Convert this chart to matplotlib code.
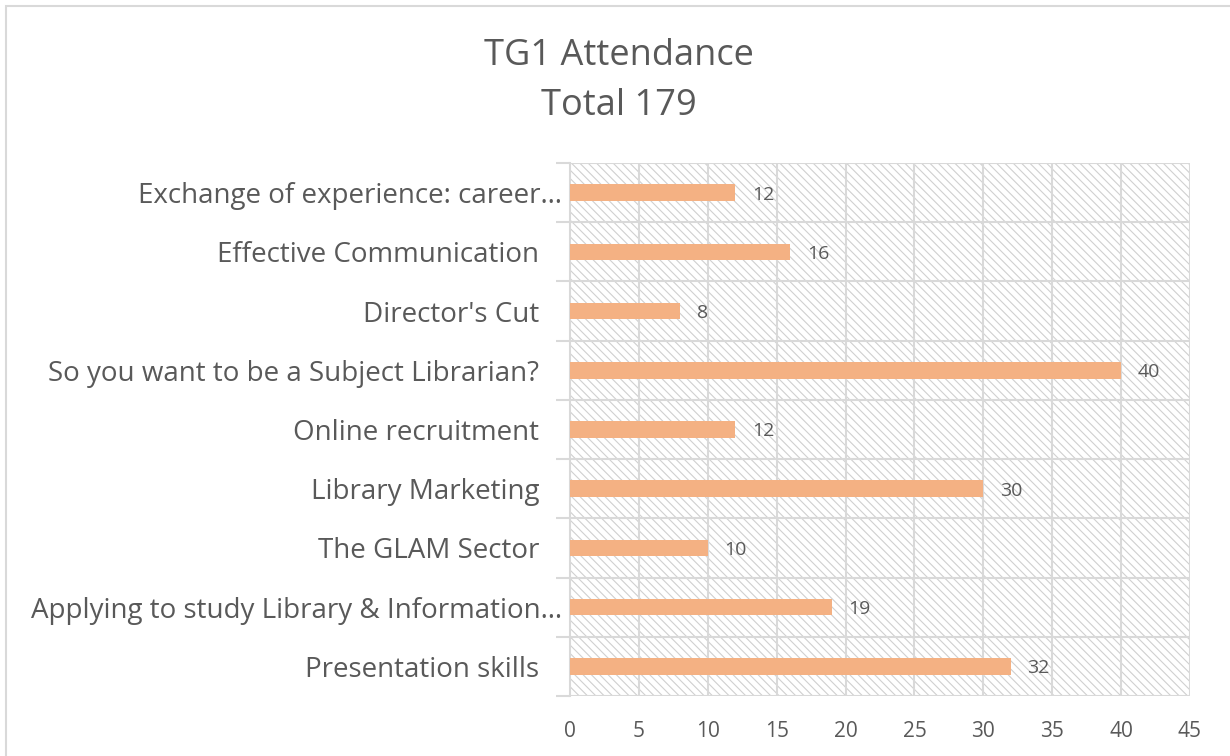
import matplotlib
matplotlib.use("Agg")
import matplotlib.pyplot as plt
from matplotlib.patches import Rectangle
from matplotlib.transforms import ScaledTranslation

categories = [
    "Presentation skills",
    "Applying to study Library & Information\u2026",
    "The GLAM Sector",
    "Library Marketing",
    "Online recruitment",
    "So you want to be a Subject Librarian?",
    "Director's Cut",
    "Effective Communication",
    "Exchange of experience: career\u2026",
]
values = [32, 19, 10, 30, 12, 40, 8, 16, 12]
xticks = [0, 5, 10, 15, 20, 25, 30, 35, 40, 45]
title = "TG1 Attendance\nTotal 179"

TXT = "#595959"
GRID = "#d9d9d9"
BAR = "#F4B183"

plt.rcParams['font.family'] = ['Open Sans', 'DejaVu Sans']
plt.rcParams['hatch.color'] = '#d0d0d0'
plt.rcParams['hatch.linewidth'] = 0.8

W, H = 1230, 756
fig = plt.figure(figsize=(W / 100, H / 100), dpi=100)
fig.patch.set_facecolor("white")

# chart border
fig.patches.append(Rectangle((6 / W, -0.05), 1.2, 1 - 5.5 / H + 0.05, transform=fig.transFigure,
                             fill=False, edgecolor=GRID, linewidth=1.5))

left, right, top, bottom = 570 / W, 1190 / W, 1 - 163 / H, 1 - 696 / H
ax = fig.add_axes([left, bottom, right - left, top - bottom])

n = len(categories)
ax.set_xlim(0, 45)
ax.set_ylim(-0.5, n - 0.5)

# hatched background
ax.add_patch(Rectangle((0, -0.5), 45, n, facecolor="white", edgecolor="#d0d0d0",
                       hatch="\\\\\\\\", linewidth=0, zorder=0))

ax.set_xticks(xticks)
for x in xticks[1:]:
    ax.axvline(x, color=GRID, lw=1.5, zorder=1)
for y in range(n + 1):
    ax.axhline(y - 0.5, color=GRID, lw=1.5, zorder=1, xmin=0, xmax=1)

ax.barh(range(n), values, height=0.28, color=BAR, zorder=3)
for i, v in enumerate(values):
    ax.annotate(str(v), (v, i), xytext=(12, 0), textcoords="offset points",
                va="center_baseline", ha="left", fontsize=14, color=TXT, zorder=4)

ax.set_yticks(range(n))
ax.set_yticklabels(categories, fontsize=20, color=TXT)
ax.set_yticks([y - 0.5 for y in range(n + 1)], minor=True)
ax.tick_params(axis="y", which="major", length=0, pad=22)
ax.tick_params(axis="y", which="minor", length=10, color=GRID, width=1.5)
ax.tick_params(axis="x", length=0, pad=18, labelsize=15, labelcolor=TXT)
for lab in ax.get_yticklabels():
    lab.set_ha("right")
    if lab.get_text().endswith("\u2026"):
        lab.set_transform(lab.get_transform() + ScaledTranslation(23 / 100, 0, fig.dpi_scale_trans))

for s in ["top", "right", "bottom"]:
    ax.spines[s].set_visible(False)
ax.spines["left"].set_color(GRID)
ax.spines["left"].set_linewidth(1.5)

fig.text(619 / W, 1 - 81 / H, title, ha="center", va="center", fontsize=26, color=TXT,
         linespacing=1.5)

fig.savefig("out.png", dpi=100, facecolor="white")
